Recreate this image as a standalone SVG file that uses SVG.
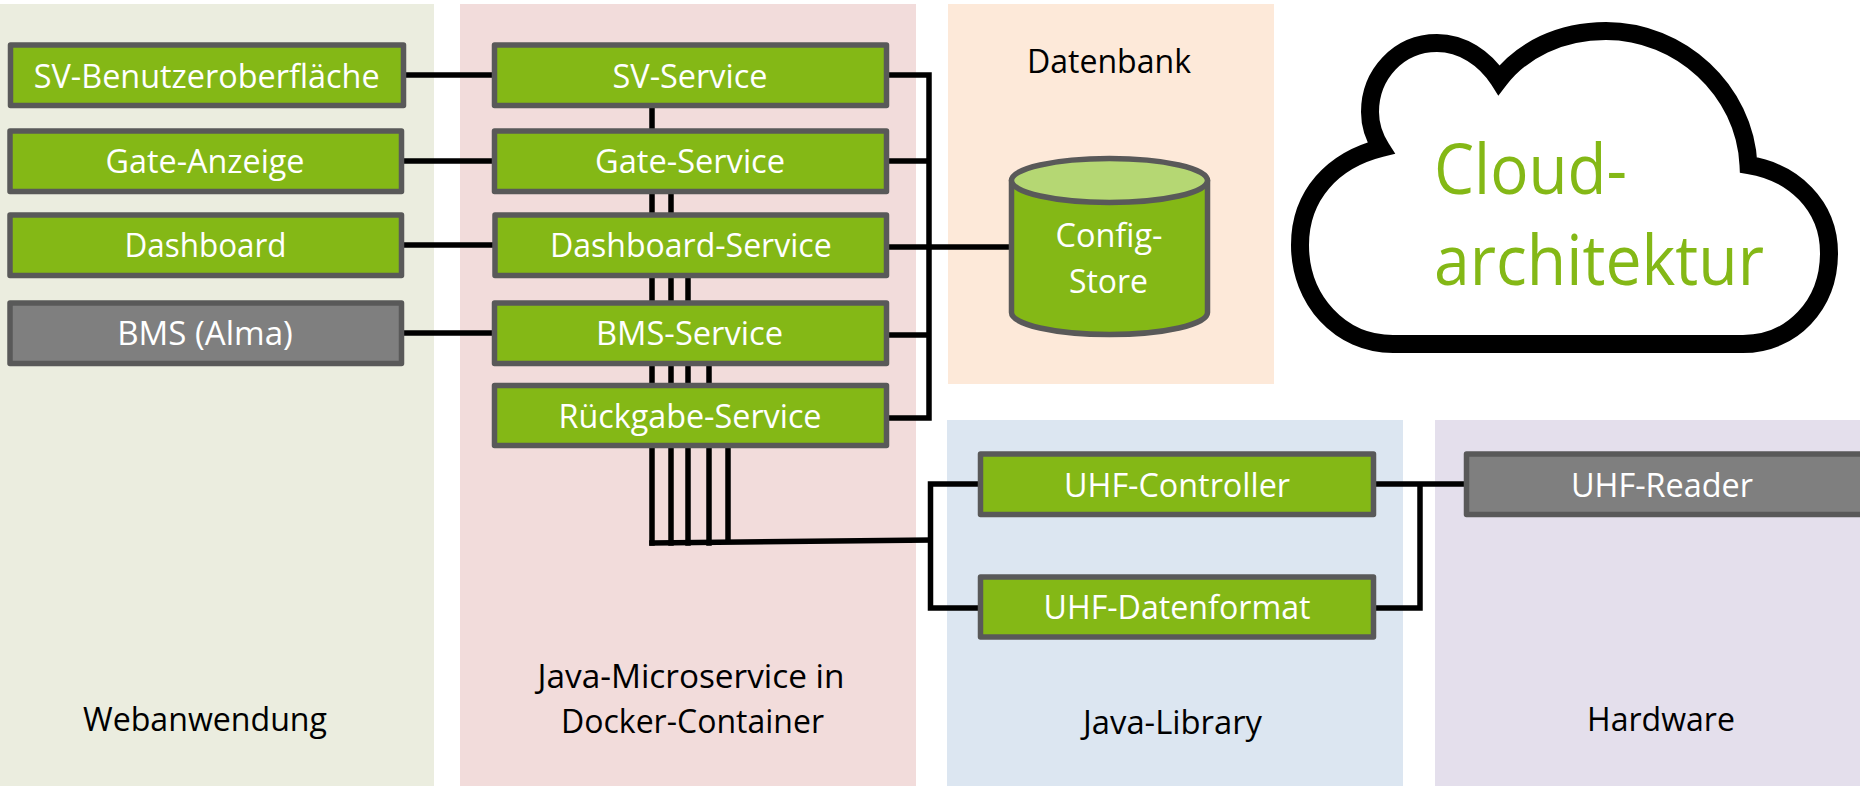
<svg xmlns="http://www.w3.org/2000/svg" width="1860" height="786" viewBox="0 0 1860 786">
<style>
text{font-family:"Open Sans","Noto Sans","Liberation Sans",sans-serif;font-size:33px;text-anchor:middle}
.w{fill:#fff}.k{fill:#000}
.n{fill:#84b816;stroke:#595959;stroke-width:5.5;stroke-linejoin:round}
.g{fill:#7f7f7f;stroke:#595959;stroke-width:5.5;stroke-linejoin:round}
.c{fill:none;stroke:#000;stroke-width:5.5;stroke-linecap:square}
.cl{font-size:69px;fill:#84b816;text-anchor:start}
</style>
<g id="panels">
<rect x="0" y="4" width="434" height="782" fill="#ebeddf"/>
<rect x="460" y="4" width="456" height="782" fill="#f2dcdb"/>
<rect x="948" y="4" width="326" height="380" fill="#fde9d9"/>
<rect x="947" y="420" width="456" height="366" fill="#dce6f1"/>
<rect x="1435" y="420" width="425" height="366" fill="#e4dfec"/>
<text class="k" x="205" y="730.5" textLength="244" lengthAdjust="spacingAndGlyphs">Webanwendung</text>
<text class="k" x="691" y="688" textLength="307" lengthAdjust="spacingAndGlyphs">Java-Microservice in</text>
<text class="k" x="692.5" y="733" textLength="263" lengthAdjust="spacingAndGlyphs">Docker-Container</text>
<text class="k" x="1109" y="72.5" textLength="164" lengthAdjust="spacingAndGlyphs">Datenbank</text>
<text class="k" x="1172.5" y="734" textLength="179" lengthAdjust="spacingAndGlyphs">Java-Library</text>
<text class="k" x="1661" y="731" textLength="148" lengthAdjust="spacingAndGlyphs">Hardware</text>
</g>
<g id="connectors" class="c">
<path d="M406 75H493M404 161H493M404 245H493M404 333H493"/>
<path d="M652 108V543M671 194V543M688 278V543M709 366V543M728 448V541"/>
<path d="M652 543L930 540"/>
<path d="M889 75H929V418H889M889 161H929M888 247H1010M889 335H929"/>
<path d="M982 484H930.5V608H982M1376 484H1465M1376 608H1420V484"/>
</g>
<g id="sv-ui"><rect class="n" x="10.5" y="45" width="393" height="60.5"/><text class="w" x="206.7" y="87.5" textLength="346" lengthAdjust="spacingAndGlyphs">SV-Benutzeroberfläche</text></g>
<g id="gate-anzeige"><rect class="n" x="10" y="131" width="391.5" height="60.5"/><text class="w" x="205" y="173" textLength="199" lengthAdjust="spacingAndGlyphs">Gate-Anzeige</text></g>
<g id="dashboard"><rect class="n" x="10" y="215" width="391.5" height="60.5"/><text class="w" x="205.5" y="257" textLength="162" lengthAdjust="spacingAndGlyphs">Dashboard</text></g>
<g id="bms"><rect class="g" x="10" y="303" width="391.5" height="60.5"/><text class="w" x="205" y="345" textLength="175.5" lengthAdjust="spacingAndGlyphs">BMS (Alma)</text></g>
<g id="sv-service"><rect class="n" x="494.5" y="45" width="392" height="60.5"/><text class="w" x="690" y="87.5" textLength="155" lengthAdjust="spacingAndGlyphs">SV-Service</text></g>
<g id="gate-service"><rect class="n" x="494.5" y="131" width="392" height="60.5"/><text class="w" x="690" y="173" textLength="190" lengthAdjust="spacingAndGlyphs">Gate-Service</text></g>
<g id="dashboard-service"><rect class="n" x="495" y="215" width="391.5" height="60.5"/><text class="w" x="690.8" y="257" textLength="281.7" lengthAdjust="spacingAndGlyphs">Dashboard-Service</text></g>
<g id="bms-service"><rect class="n" x="494.5" y="303" width="392" height="60.5"/><text class="w" x="689.5" y="345" textLength="187" lengthAdjust="spacingAndGlyphs">BMS-Service</text></g>
<g id="rueckgabe-service"><rect class="n" x="494.5" y="385.5" width="392" height="60"/><text class="w" x="690" y="428" textLength="263" lengthAdjust="spacingAndGlyphs">Rückgabe-Service</text></g>
<g id="uhf-controller"><rect class="n" x="980.5" y="454" width="393" height="60.5"/><text class="w" x="1177" y="496.5" textLength="226" lengthAdjust="spacingAndGlyphs">UHF-Controller</text></g>
<g id="uhf-datenformat"><rect class="n" x="980.5" y="577" width="393" height="60"/><text class="w" x="1177" y="618.5" textLength="267" lengthAdjust="spacingAndGlyphs">UHF-Datenformat</text></g>
<g id="uhf-reader"><rect class="g" x="1466.5" y="454" width="400" height="60.5"/><text class="w" x="1662" y="496.5" textLength="182" lengthAdjust="spacingAndGlyphs">UHF-Reader</text></g>
<g id="config-store">
<path d="M1011.5 180.5V312.5C1011.5 324.5 1055 334.5 1109.5 334.5S1207.5 324.5 1207.5 312.5V180.5Z" class="n"/>
<ellipse cx="1109.5" cy="180.5" rx="98" ry="22" fill="#b5d773" stroke="#595959" stroke-width="5.5"/>
<text class="w" x="1109" y="247" textLength="107" lengthAdjust="spacingAndGlyphs">Config-</text>
<text class="w" x="1108.5" y="292.5" textLength="79" lengthAdjust="spacingAndGlyphs">Store</text>
</g>
<g id="cloud">
<path d="M1393 344L1743 344C1792 344 1829 305 1829 253C1829 205 1793 172 1748.5 165C1745 90 1680 31 1606 31C1560 31 1522 50 1499 80C1485 58 1462 43 1437 43C1398 43 1370 75 1370 112C1370 125 1374 137 1381 148C1333 160 1300 195 1300 245C1300 300 1340 344 1393 344Z" fill="#fff" stroke="#000" stroke-width="18" stroke-miterlimit="8"/>
<text class="cl" x="1434" y="194" textLength="193" lengthAdjust="spacingAndGlyphs">Cloud-</text>
<text class="cl" x="1434" y="284.5" textLength="330" lengthAdjust="spacingAndGlyphs">architektur</text>
</g>
</svg>
